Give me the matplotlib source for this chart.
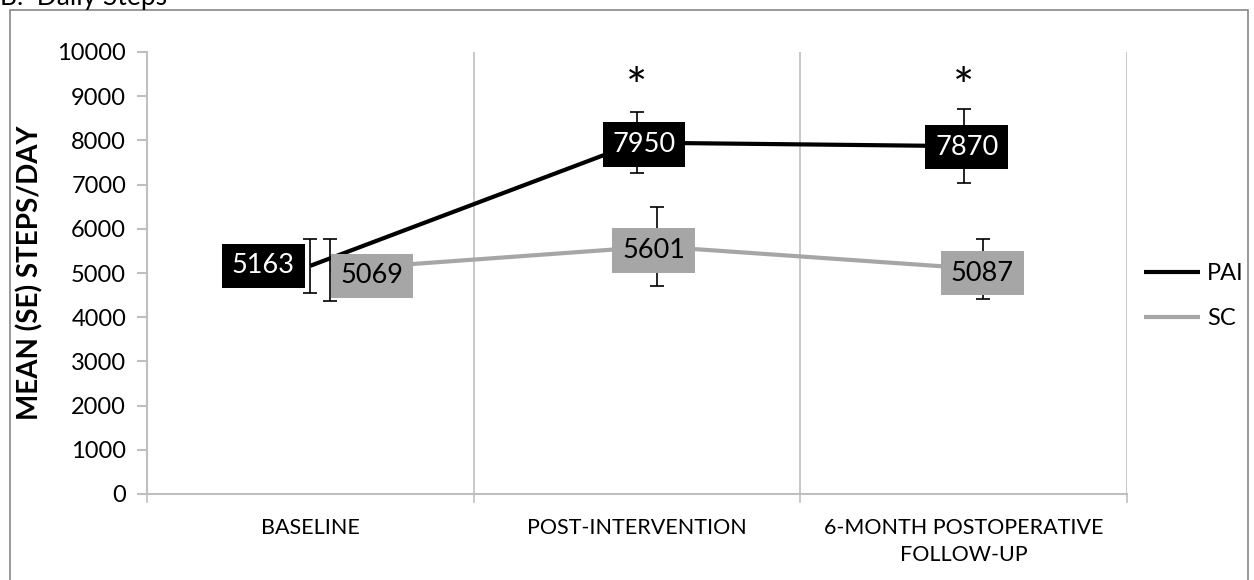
import matplotlib
matplotlib.use("Agg")
import matplotlib.pyplot as plt
from matplotlib.patches import Rectangle
import numpy as np

plt.rcParams['font.family'] = ['Lato', 'DejaVu Sans']

categories = ["BASELINE", "POST-INTERVENTION", "6-MONTH POSTOPERATIVE\nFOLLOW-UP"]
pai_mean = [5163, 7950, 7870]
pai_se = [610, 690, 840]
sc_mean = [5069, 5601, 5087]
sc_se = [710, 900, 680]
significant = [False, True, True]
yticks = list(range(0, 10001, 1000))

BLACK = "#000000"
GRAY = "#A6A6A6"
GRID = "#BFBFBF"

fig = plt.figure(figsize=(12.54, 5.8), dpi=100)
ax = fig.add_axes([147/1254, 86/580, 980/1254, 442/580])

x = np.arange(len(categories))
sc_off = 0.06

ax.plot(x, pai_mean, color=BLACK, lw=3, zorder=3, label="PAI", solid_capstyle='butt')
ax.plot(x + sc_off, sc_mean, color=GRAY, lw=3, zorder=2, label="SC", solid_capstyle='butt')
ax.errorbar(x, pai_mean, yerr=pai_se, fmt='none', ecolor=BLACK, elinewidth=1.2,
            capsize=5, capthick=1.2, zorder=4)
ax.errorbar(x + sc_off, sc_mean, yerr=sc_se, fmt='none', ecolor=BLACK, elinewidth=1.2,
            capsize=5, capthick=1.2, zorder=4)

# data labels
pai_lab_off = [(-47, 0), (7, -2), (3, -1)]
sc_lab_off = [(42, -6), (-3, -4), (-1, -4)]
for i in range(len(categories)):
    ax.annotate(str(pai_mean[i]), (x[i], pai_mean[i]), xytext=pai_lab_off[i],
                textcoords='offset pixels', ha='center', va='center', fontsize=19.5,
                color='white', zorder=6,
                bbox=dict(boxstyle='square,pad=0.36', fc=BLACK, ec='none'))
    ax.annotate(str(sc_mean[i]), (x[i] + sc_off, sc_mean[i]), xytext=sc_lab_off[i],
                textcoords='offset pixels', ha='center', va='center', fontsize=19.5,
                color=BLACK, zorder=5,
                bbox=dict(boxstyle='square,pad=0.36', fc=GRAY, ec='none'))
    if significant[i]:
        ax.text(x[i], 9150, "*", ha='center', va='center', fontsize=36, color=BLACK)

ax.set_xlim(-0.5, len(categories) - 0.5)
ax.set_ylim(0, 10000)
ax.set_yticks(yticks)
ax.set_yticklabels([str(t) for t in yticks], fontsize=17)
ax.set_xticks(x)
ax.set_xticklabels(categories, fontsize=15.5, linespacing=1.45)
ax.tick_params(axis='x', length=0, pad=17)
ax.tick_params(axis='y', length=7, color=GRID, width=1.5, pad=8)

for b in [0.5, 1.5, 2.5]:
    ax.axvline(b, color=GRID, lw=1.2, zorder=0)
for b in [-0.5, 0.5, 1.5, 2.5]:
    ax.plot([b, b], [0, -180], color=GRID, lw=1.2, clip_on=False)

for s in ['top', 'right']:
    ax.spines[s].set_visible(False)
for s in ['left', 'bottom']:
    ax.spines[s].set_color(GRID)
    ax.spines[s].set_linewidth(1.5)

ax.set_ylabel("MEAN (SE) STEPS/DAY", fontsize=20, fontweight='bold', labelpad=10)

leg = ax.legend(loc='center left', bbox_to_anchor=(1.0, 0.448), frameon=False,
                fontsize=17, handlelength=2.4, handletextpad=0.3, labelspacing=1.0,
                borderaxespad=0.3)

# outer border
fig.patches.append(Rectangle((10/1254, -0.01), 1238/1254, 570/580 + 0.01,
                             transform=fig.transFigure, fill=False, ec='#888888', lw=1.2))
fig.text(0.0, 1 - 5/580, "B.  Daily Steps", fontsize=19, va='baseline', ha='left')

fig.savefig("out.png", dpi=100)
